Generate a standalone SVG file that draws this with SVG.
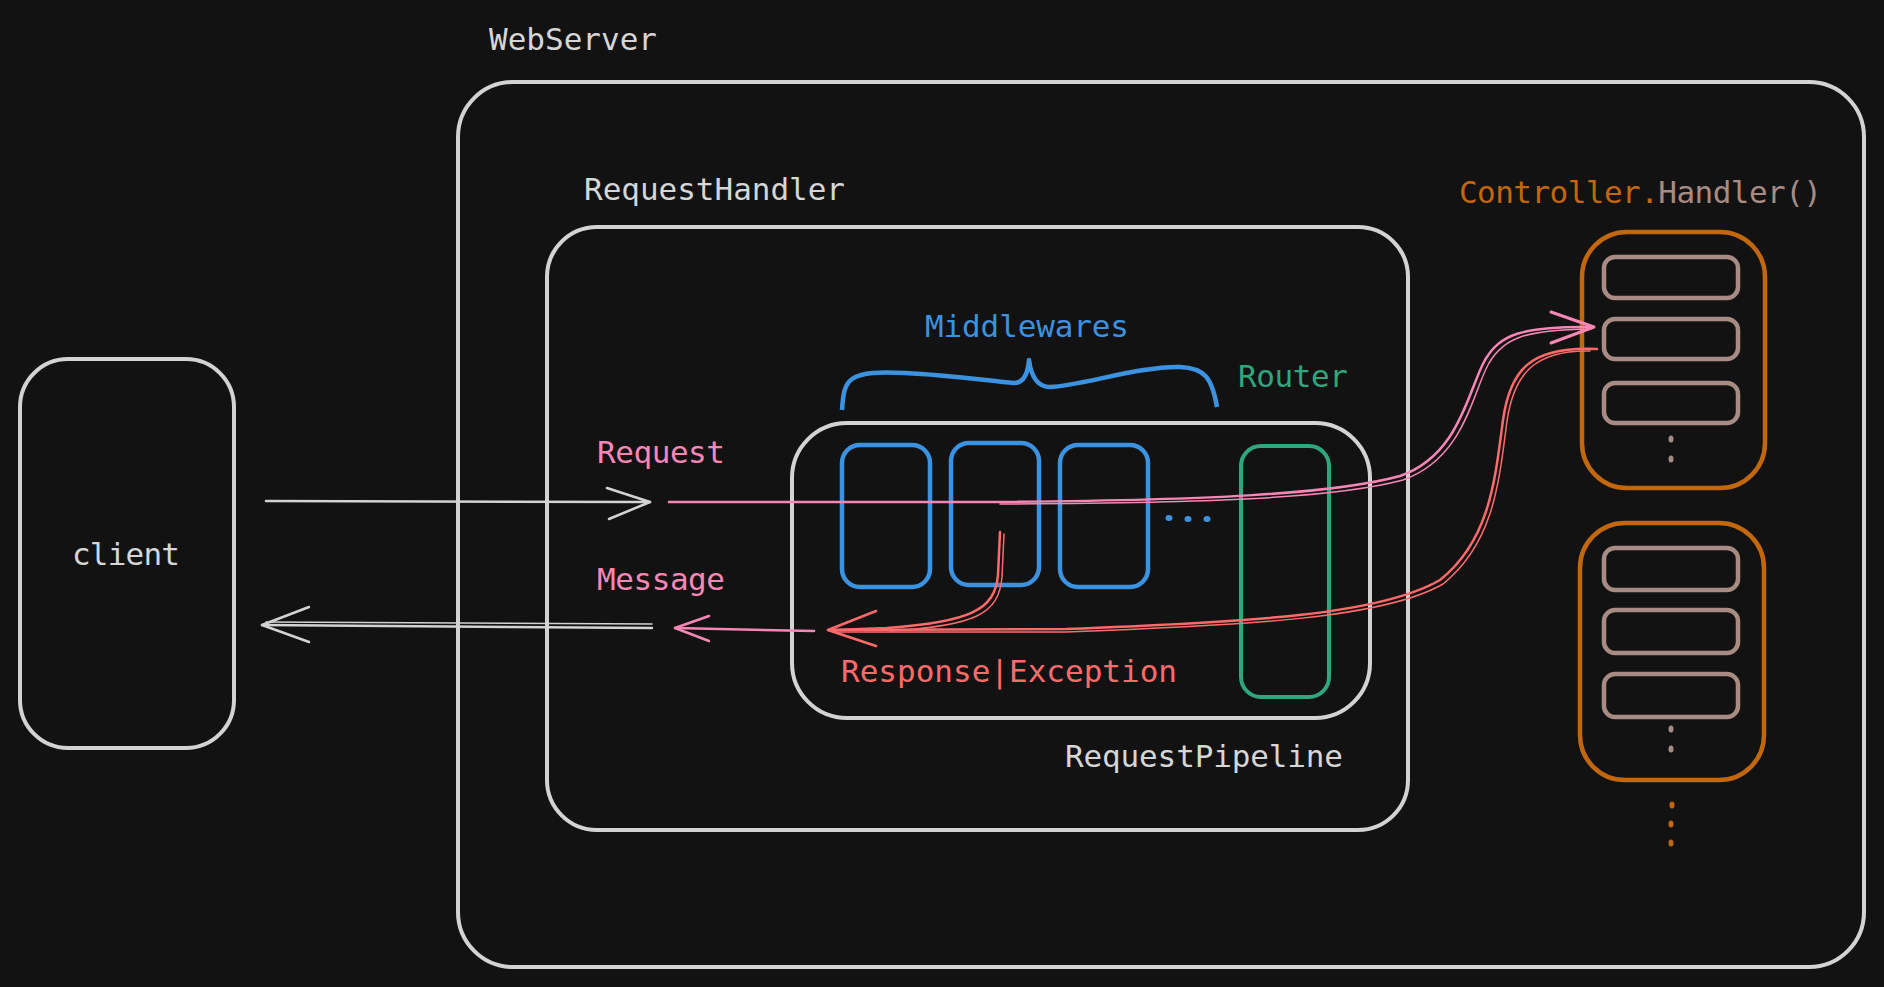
<svg xmlns="http://www.w3.org/2000/svg" width="1884" height="987" viewBox="0 0 1884 987">
<defs>
<style>
text{font-family:"DejaVu Sans Mono","Liberation Mono",monospace;font-size:31px}
.w{fill:none;stroke:#d3d3d3;stroke-width:4;stroke-linecap:round;stroke-linejoin:round}
.tw{fill:#d6d6d6}
.blue{fill:none;stroke:#3a92e0;stroke-width:4.5;stroke-linejoin:round}
.green{fill:none;stroke:#30a67f;stroke-width:4}
.orange{fill:none;stroke:#c2670c;stroke-width:4.5}
.tan{fill:none;stroke:#a88c84;stroke-width:4.5}
.ln{fill:none;stroke-linecap:round;stroke-linejoin:round;stroke-width:2.5}
.pk{stroke:#f987b6}
.rd{stroke:#ff6b6b}
.wt{stroke:#d3d3d3}
</style>
</defs>
<rect width="1884" height="987" fill="#121212"/>

<g id="webserver">
<rect class="w" x="458" y="82" width="1406" height="885" rx="55" ry="55"/>
<text class="tw" x="489" y="50" textLength="168">WebServer</text>
</g>

<g id="requesthandler">
<rect class="w" x="547" y="227" width="861" height="603" rx="50" ry="50"/>
<text class="tw" x="584" y="200" textLength="261">RequestHandler</text>
</g>

<g id="client">
<rect class="w" x="20" y="359" width="214" height="389" rx="48" ry="48"/>
<text class="tw" x="72" y="565" textLength="108">client</text>
</g>

<g id="requestpipeline">
<rect class="w" x="792" y="423" width="578" height="295" rx="55" ry="55"/>
<text class="tw" x="1065" y="767" textLength="278">RequestPipeline</text>
</g>

<g id="middlewares">
<path class="blue" d="M842,410 C843,395 844,385 852,379 C862,372 880,372 905,373 C950,375 990,381 1014,383 C1024,383 1028,372 1029,360 C1031,375 1036,387 1050,387 C1080,386 1140,366 1180,367 C1205,368 1212,378 1217,407"/>
<text x="925" y="337" textLength="204" fill="#3a92e0">Middlewares</text>
<rect class="blue" x="842" y="445" width="88" height="142" rx="18" ry="18"/>
<rect class="blue" x="951" y="443" width="88" height="142" rx="18" ry="18"/>
<rect class="blue" x="1060" y="445" width="88" height="142" rx="18" ry="18"/>
<g fill="#3a92e0">
<ellipse cx="1169" cy="518" rx="3.5" ry="3"/>
<ellipse cx="1188" cy="519" rx="3.5" ry="3"/>
<ellipse cx="1207" cy="519" rx="3.5" ry="3"/>
</g>
</g>

<g id="router">
<text x="1238" y="387" textLength="110" fill="#30a67f">Router</text>
<rect class="green" x="1241" y="446" width="88" height="251" rx="20" ry="20"/>
</g>

<g id="controller">
<text x="1459" y="203" textLength="363"><tspan fill="#c2670c">Controller.</tspan><tspan fill="#a88c84">Handler()</tspan></text>
<rect class="orange" x="1582" y="232" width="183" height="256" rx="45" ry="45"/>
<rect class="tan" x="1604" y="257" width="134" height="41" rx="11" ry="11"/>
<rect class="tan" x="1604" y="319" width="134" height="40" rx="11" ry="11"/>
<rect class="tan" x="1604" y="383" width="134" height="40" rx="11" ry="11"/>
<g fill="#a88c84">
<ellipse cx="1671" cy="439" rx="2.5" ry="3.5"/>
<ellipse cx="1671" cy="459" rx="2.5" ry="3.5"/>
</g>
</g>

<g id="controller2">
<rect class="orange" x="1580" y="523" width="184" height="257" rx="45" ry="45"/>
<rect class="tan" x="1604" y="548" width="134" height="42" rx="11" ry="11"/>
<rect class="tan" x="1604" y="610" width="134" height="43" rx="11" ry="11"/>
<rect class="tan" x="1604" y="674" width="134" height="43" rx="11" ry="11"/>
<g fill="#a88c84">
<ellipse cx="1671" cy="729" rx="2.5" ry="3.5"/>
<ellipse cx="1671" cy="749" rx="2.5" ry="3.5"/>
</g>
<g fill="#c2670c">
<ellipse cx="1672" cy="805" rx="2.5" ry="3.5"/>
<ellipse cx="1671" cy="824" rx="2.5" ry="3.5"/>
<ellipse cx="1671" cy="843" rx="2.5" ry="3.5"/>
</g>
</g>

<g id="labels">
<text x="597" y="463" textLength="128" fill="#f987b6">Request</text>
<text x="597" y="590" textLength="128" fill="#f987b6">Message</text>
<text x="841" y="682" textLength="336" fill="#ff6b6b">Response|Exception</text>
</g>

<g id="connectors">
<path class="ln wt" d="M266,501 L650,502"/>
<path class="ln wt" d="M607,488 L650,502 L609,519"/>
<path class="ln pk" d="M669,502 L1000,502 C1200,500 1330,495 1400,476 C1460,455 1468,390 1485,360 C1500,335 1520,326 1593,327"/>
<path class="ln pk" style="stroke-width:1.5" d="M1000,504 C1200,503 1332,499 1403,480 C1465,458 1472,393 1489,363 C1504,338 1524,330 1590,329"/>
<path class="ln pk" style="stroke-width:3" d="M1551,312 L1594,327 L1551,343"/>
<path class="ln rd" d="M1597,349 C1530,346 1510,370 1503,420 C1495,480 1490,540 1440,580 C1380,615 1250,622 1066,629 L828,630"/>
<path class="ln rd" style="stroke-width:1.5" d="M1590,351 C1534,350 1514,374 1507,421 C1499,482 1494,543 1443,584 C1384,618 1252,625 1066,632 L835,632"/>
<path class="ln rd" d="M1000,532 L998,575 C995,610 970,622 887,628 L835,630"/>
<path class="ln rd" style="stroke-width:1.5" d="M1004,534 L1002,577 C999,614 975,626 890,631"/>
<path class="ln rd" d="M876,611 L828,630 L876,646"/>
<path class="ln pk" d="M814,631 L675,628"/>
<path class="ln pk" d="M709,616 L675,628 L709,641"/>
<path class="ln wt" d="M652,628 L262,625"/>
<path class="ln wt" style="stroke-width:1.5" d="M652,624 L266,622"/>
<path class="ln wt" d="M309,607 L262,625 L309,642"/>
</g>
</svg>
